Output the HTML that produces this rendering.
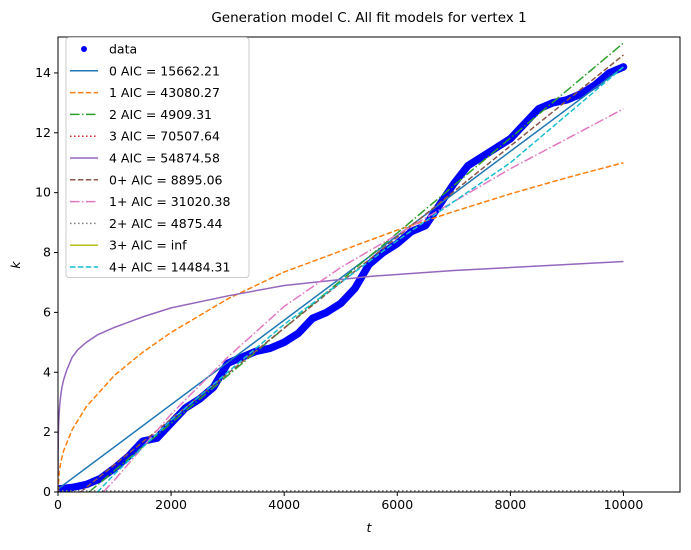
<!DOCTYPE html>
<html><head><meta charset="utf-8"><style>
body{margin:0;background:#fff;font-family:"Liberation Sans","DejaVu Sans",sans-serif}
svg text{font-family:"DejaVu Sans","Liberation Sans",sans-serif;font-size:12.5px;fill:#000}
</style></head><body>
<svg id="chart" width="691" height="545">
<text x="369" y="22" text-anchor="middle" style="font-size:13.5px">Generation model C. All fit models for vertex 1</text>
<g id="plot"></g>
<rect x="58" y="37" width="622" height="455" fill="none" stroke="#000" stroke-width="1"/>
<g id="axes"></g>
<text x="369" y="532" text-anchor="middle" font-style="italic">t</text>
<text x="20" y="265" text-anchor="middle" font-style="italic" transform="rotate(-90 20 265)">k</text>
<g id="legend"></g>
</svg>
<script>
const xTicks=[0,2000,4000,6000,8000,10000];
const yTicks=[0,2,4,6,8,10,12,14];
const dataT=[0,250,500,750,1000,1250,1500,1750,2000,2250,2500,2750,3000,3250,3500,3750,4000,4250,4500,4750,5000,5250,5500,5750,6000,6250,6500,6750,7000,7250,7500,7750,8000,8250,8500,8750,9000,9250,9500,9750,10000];
const dataK=[0.1,0.15,0.25,0.45,0.8,1.2,1.7,1.8,2.3,2.8,3.1,3.5,4.3,4.5,4.7,4.8,5.0,5.3,5.8,6.0,6.3,6.8,7.6,8.0,8.3,8.7,8.9,9.6,10.3,10.9,11.2,11.5,11.8,12.3,12.8,13.0,13.1,13.3,13.6,14.0,14.2];
const m0T=[0,10000], m0K=[0.1,14.2];
const m1T=[0,20,50,100,250,500,1000,1500,2000,3000,4000,5000,6000,7000,8000,9000,10000];
const m1K=[0,0.67,1.0,1.38,2.08,2.85,3.9,4.67,5.33,6.45,7.35,8.05,8.75,9.37,9.96,10.5,11.0];
const m2T=[550,10000], m2K=[0,15.0];
const m3T=[0,10000], m3K=[0.02,0.02];
const m4T=[1,2,5,10,20,30,50,70,100,150,250,350,500,700,1000,1500,2000,3000,4000,5500,7000,10000];
const m4K=[0.6,1.2,1.7,2.2,2.6,2.9,3.25,3.5,3.75,4.05,4.5,4.75,5.0,5.25,5.5,5.85,6.15,6.55,6.9,7.2,7.4,7.7];
const m0pT=[400,10000], m0pK=[0,14.6];
const m1pT=[800,1000,1500,2000,3000,4000,5000,6000,7000,8000,9000,10000];
const m1pK=[0,0.4,1.5,2.6,4.5,6.2,7.5,8.6,9.7,10.8,11.8,12.8];
const m2pT=[0,10000], m2pK=[0.04,0.04];
const m4pT=[700,1000,2000,3000,4000,5000,6000,7000,8000,9000,10000];
const m4pK=[0,0.6,2.4,4.0,5.6,7.0,8.4,9.7,11.0,12.6,14.2];
const labels=["data","0 AIC = 15662.21","1 AIC = 43080.27","2 AIC = 4909.31","3 AIC = 70507.64","4 AIC = 54874.58","0+ AIC = 8895.06","1+ AIC = 31020.38","2+ AIC = 4875.44","3+ AIC = inf","4+ AIC = 14484.31"];

const NS="http://www.w3.org/2000/svg";
const X0=58,X1=680,Y0=492,Y1=37,XMAX=11000,YMAX=15.2;
const sx=t=>X0+t/XMAX*(X1-X0);
const sy=k=>Y0-k/YMAX*(Y0-Y1);
function mk(tag,attrs,parent){const e=document.createElementNS(NS,tag);for(const a in attrs)e.setAttribute(a,attrs[a]);parent.appendChild(e);return e;}
const plot=document.getElementById('plot'),axes=document.getElementById('axes'),leg=document.getElementById('legend');
const cp=mk('clipPath',{id:'clip'},plot);
mk('rect',{x:X0,y:Y1,width:X1-X0,height:Y0-Y1},cp);
const series=[
 {name:'model-0-line',T:m0T,K:m0K,c:'#1f77b4',d:''},
 {name:'model-1-line',T:m1T,K:m1K,c:'#ff7f0e',d:'5.5,2.4'},
 {name:'model-2-line',T:m2T,K:m2K,c:'#2ca02c',d:'9.6,2.4,1.5,2.4'},
 {name:'model-3-line',T:m3T,K:m3K,c:'#d62728',d:'1.5,2.5'},
 {name:'model-4-line',T:m4T,K:m4K,c:'#9467bd',d:''},
 {name:'model-0plus-line',T:m0pT,K:m0pK,c:'#8c564b',d:'5.5,2.4'},
 {name:'model-1plus-line',T:m1pT,K:m1pK,c:'#e377c2',d:'9.6,2.4,1.5,2.4'},
 {name:'model-2plus-line',T:m2pT,K:m2pK,c:'#7f7f7f',d:'1.5,2.5'},
 {name:'model-3plus-line',T:[],K:[],c:'#bcbd22',d:''},
 {name:'model-4plus-line',T:m4pT,K:m4pK,c:'#17becf',d:'5.5,2.4'}
];
const pts=dataT.map((t,i)=>sx(t)+','+sy(dataK[i])).join(' ');
const dl=mk('polyline',{points:pts,fill:'none',stroke:'#0000ff','stroke-width':7.5,'stroke-linejoin':'round','stroke-linecap':'round','clip-path':'url(#clip)'},plot);


series.forEach(s=>{
 if(!s.T.length)return;
 const p=s.T.map((t,i)=>sx(t)+','+sy(s.K[i])).join(' ');
 const a={points:p,fill:'none',stroke:s.c,'stroke-width':1.5,'clip-path':'url(#clip)'};
 if(s.d)a['stroke-dasharray']=s.d;
 const e=mk('polyline',a,plot);
 
 
});
xTicks.forEach(t=>{
 mk('line',{x1:sx(t),x2:sx(t),y1:Y0,y2:Y0+4,stroke:'#000'},axes);
 const tx=mk('text',{x:sx(t),y:Y0+17,'text-anchor':'middle'},axes);tx.textContent=t;
 
 
});
yTicks.forEach(k=>{
 mk('line',{x1:X0-4,x2:X0,y1:sy(k),y2:sy(k),stroke:'#000'},axes);
 const tx=mk('text',{x:X0-7,y:sy(k)+4,'text-anchor':'end'},axes);tx.textContent=k;
 
 
});
const lb=mk('rect',{x:66,y:37.5,width:183,height:240,rx:3,fill:'#fff','fill-opacity':0.8,stroke:'#ccc'},leg);


labels.forEach((l,i)=>{
 const y=49+i*21.8;
 const g=mk('g',{},leg);
 
 
 if(i===0){mk('circle',{cx:84,cy:y,r:3,fill:'#0000ff'},g);}
 else{const s=series[i-1];const a={x1:70,x2:98,y1:y,y2:y,stroke:s.c,'stroke-width':1.5};if(s.d)a['stroke-dasharray']=s.d;mk('line',a,g);}
 const t=mk('text',{x:109,y:y+4.5},g);t.textContent=l;
});
</script>
</body></html>
